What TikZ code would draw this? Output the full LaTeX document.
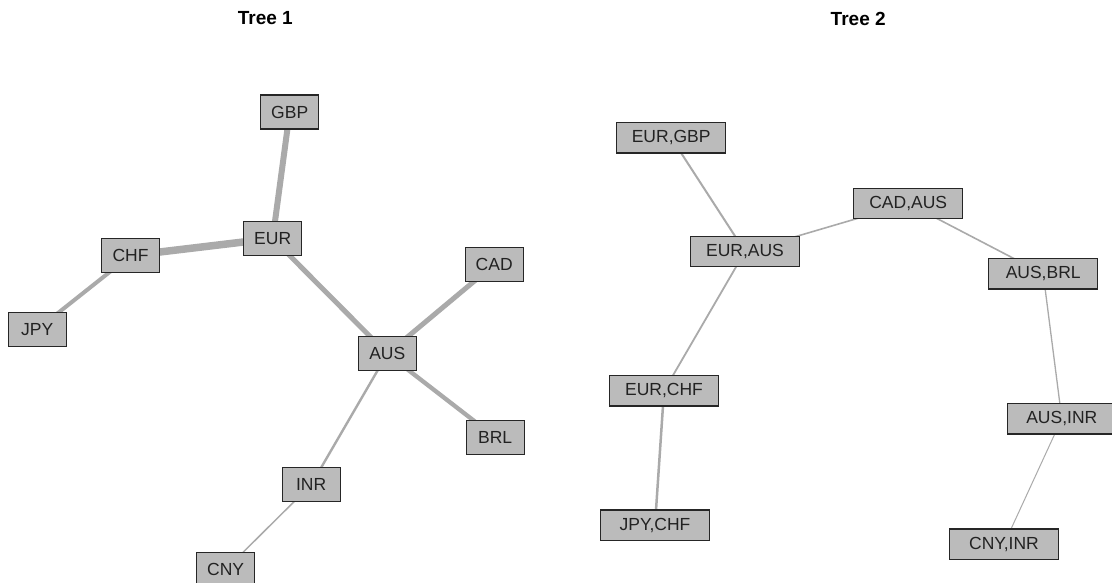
\documentclass[tikz,border=0pt]{standalone}
\usepackage{fontspec}
\setmainfont{Liberation Sans}
\usetikzlibrary{backgrounds}
\definecolor{boxfill}{HTML}{BBBBBB}
\definecolor{boxline}{HTML}{262626}
\definecolor{edgecol}{HTML}{AAAAAA}
\definecolor{txt}{HTML}{222222}
\tikzset{
  nodeA/.style={draw=boxline, fill=boxfill, line width=1.3pt, minimum width=58pt, minimum height=34pt, inner sep=0pt, text=txt, font=\fontsize{17.5}{19}\selectfont},
  nodeB/.style={draw=boxline, fill=boxfill, line width=1.3pt, minimum width=109pt, minimum height=30.5pt, inner sep=0pt, text=txt, font=\fontsize{17.5}{19}\selectfont},
  ttl/.style={font=\bfseries\fontsize{19}{21}\selectfont, text=black, inner sep=0pt},
  edge/.style={draw=edgecol, line cap=butt}
}
\begin{document}
\begin{tikzpicture}[x=1pt,y=-1pt]
\useasboundingbox (0,0) rectangle (1112,583);
\node[ttl] (t1) at (265.3,18.5) {Tree 1};
\node[ttl] (t2) at (858.2,18.5) {Tree 2};
% Tree 1
\node[nodeA] (GBP) at (289.7,112) {GBP};
\node[nodeA] (EUR) at (272.7,238.5) {EUR};
\node[nodeA] (CHF) at (130.5,255.5) {CHF};
\node[nodeA] (JPY) at (37.2,329.5) {JPY};
\node[nodeA] (CAD) at (494.2,264.5) {CAD};
\node[nodeA] (AUS) at (387.3,353.8) {AUS};
\node[nodeA] (BRL) at (495.2,437.2) {BRL};
\node[nodeA] (INR) at (311.2,484.7) {INR};
\node[nodeA] (CNY) at (225.7,569.5) {CNY};
% Tree 2
\node[nodeB] (EG) at (671.2,137.7) {EUR,GBP};
\node[nodeB] (EA) at (745,251.5) {EUR,AUS};
\node[nodeB] (CA) at (908.2,203.5) {CAD,AUS};
\node[nodeB] (AB) at (1043.2,273.8) {AUS,BRL};
\node[nodeB] (AI) at (1061.8,418.7) {AUS,INR};
\node[nodeB] (EC) at (664,390.8) {EUR,CHF};
\node[nodeB] (JC) at (655,525.2) {JPY,CHF};
\node[nodeB] (CI) at (1004,544.2) {CNY,INR};
\begin{scope}[on background layer]
\fill[white] (0,0) rectangle (1112,583);
\draw[edge, line width=6pt] (GBP.center) -- (EUR.center);
\draw[edge, line width=7.5pt] (CHF.center) -- (EUR.center);
\draw[edge, line width=5pt] (EUR.center) -- (AUS.center);
\draw[edge, line width=4pt] (CHF.center) -- (JPY.center);
\draw[edge, line width=5pt] (AUS.center) -- (CAD.center);
\draw[edge, line width=4.3pt] (AUS.center) -- (BRL.center);
\draw[edge, line width=2.4pt] (AUS.center) -- (INR.center);
\draw[edge, line width=1.5pt] (INR.center) -- (CNY.center);
\draw[edge, line width=2pt] (EG.center) -- (EA.center);
\draw[edge, line width=1.6pt] (EA.center) -- (CA.center);
\draw[edge, line width=1.6pt] (CA.center) -- (AB.center);
\draw[edge, line width=1.3pt] (AB.center) -- (AI.center);
\draw[edge, line width=1.8pt] (EA.center) -- (EC.center);
\draw[edge, line width=2.5pt] (EC.center) -- (JC.center);
\draw[edge, line width=1pt] (AI.center) -- (CI.center);
\end{scope}
\end{tikzpicture}
\end{document}
